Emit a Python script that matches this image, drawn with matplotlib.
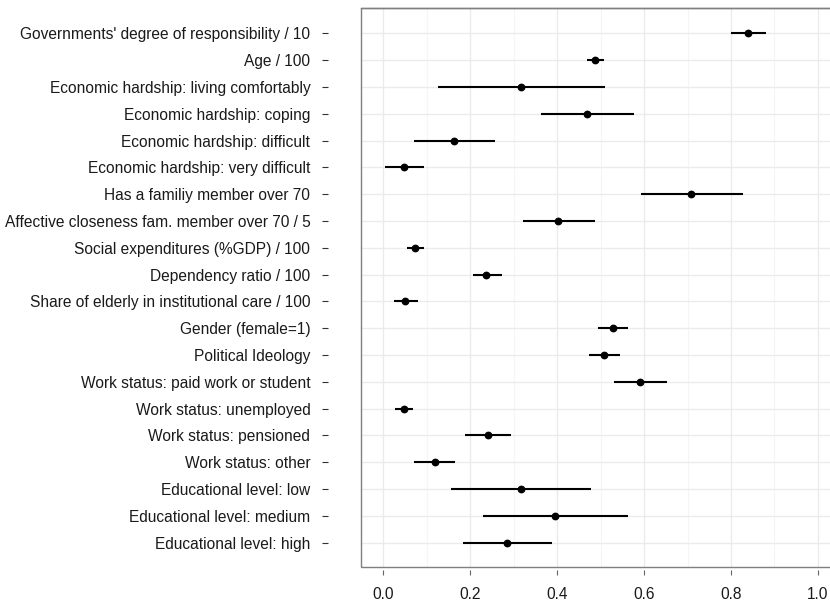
import numpy as np
import matplotlib
matplotlib.use("Agg")
import matplotlib.pyplot as plt
from matplotlib.patches import Rectangle

# Estimates with intervals
labels = [
    "Governments' degree of responsibility / 10",
    "Age / 100",
    "Economic hardship: living comfortably",
    "Economic hardship: coping",
    "Economic hardship: difficult",
    "Economic hardship: very difficult",
    "Has a familiy member over 70",
    "Affective closeness fam. member over 70 / 5",
    "Social expenditures (%GDP) / 100",
    "Dependency ratio / 100",
    "Share of elderly in institutional care / 100",
    "Gender (female=1)",
    "Political Ideology",
    "Work status: paid work or student",
    "Work status: unemployed",
    "Work status: pensioned",
    "Work status: other",
    "Educational level: low",
    "Educational level: medium",
    "Educational level: high",
]
estimate = [0.838, 0.487, 0.317, 0.468, 0.163, 0.048, 0.709, 0.403, 0.074, 0.237,
            0.051, 0.528, 0.508, 0.590, 0.048, 0.240, 0.118, 0.317, 0.395, 0.285]
lower = [0.799, 0.469, 0.125, 0.362, 0.071, 0.003, 0.594, 0.322, 0.054, 0.206,
         0.024, 0.494, 0.473, 0.530, 0.026, 0.189, 0.071, 0.155, 0.229, 0.184]
upper = [0.880, 0.507, 0.511, 0.576, 0.257, 0.094, 0.827, 0.488, 0.094, 0.273,
         0.079, 0.564, 0.544, 0.653, 0.069, 0.293, 0.166, 0.479, 0.562, 0.388]
x_ticks = [0.0, 0.2, 0.4, 0.6, 0.8, 1.0]

plt.rcParams['font.family'] = ['Liberation Sans', 'DejaVu Sans']

fig = plt.figure(figsize=(8.30, 6.02), dpi=100)
# panel runs past the right edge of the picture, as in the reference
ax = fig.add_axes([0.4355, 0.0586, 0.5762, 0.9286])

rows = np.arange(len(labels))
ax.hlines(rows, lower, upper, color='black', lw=1.5, zorder=3)
ax.plot(estimate, rows, 'o', color='black', ms=4.6, zorder=4)

ax.set_xlim(-0.05, 1.05)
ax.set_ylim(19.9, -0.955)

ax.set_xticks(x_ticks)
ax.set_xticklabels([f"{t:.1f}" for t in x_ticks])
ax.set_xticks(np.arange(0.1, 1.0, 0.2), minor=True)
ax.set_yticks(rows)
ax.set_yticklabels(labels)

ax.grid(which='major', color='#EBEBEB', lw=1.0, zorder=0)
ax.grid(which='minor', axis='x', color='#F5F5F5', lw=0.8, zorder=0)
ax.set_axisbelow(True)

# frame drawn separately, axis lines pushed out so the ticks float
for s in ['left', 'bottom']:
    ax.spines[s].set_visible(False)
ax.spines['left'].set_position(('outward', 24.1))
ax.spines['bottom'].set_position(('outward', 2.2))
for s in ['top', 'right']:
    ax.spines[s].set_color('#7F7F7F')
    ax.spines[s].set_linewidth(1.0)
ax.add_patch(Rectangle((0, 0), 1, 1, transform=ax.transAxes, fill=False,
                       edgecolor='#7F7F7F', lw=1.0, clip_on=False, zorder=5))

ax.tick_params(axis='y', which='major', length=4.5, width=0.8, color='#333333',
               pad=8.2, labelsize=11.2, labelcolor='#1A1A1A')
ax.tick_params(axis='x', which='major', length=3.6, width=0.8, color='#666666',
               pad=8.8, labelsize=11.2, labelcolor='#1A1A1A')
ax.tick_params(axis='x', which='minor', length=0)

fig.savefig("out.png", dpi=100)
